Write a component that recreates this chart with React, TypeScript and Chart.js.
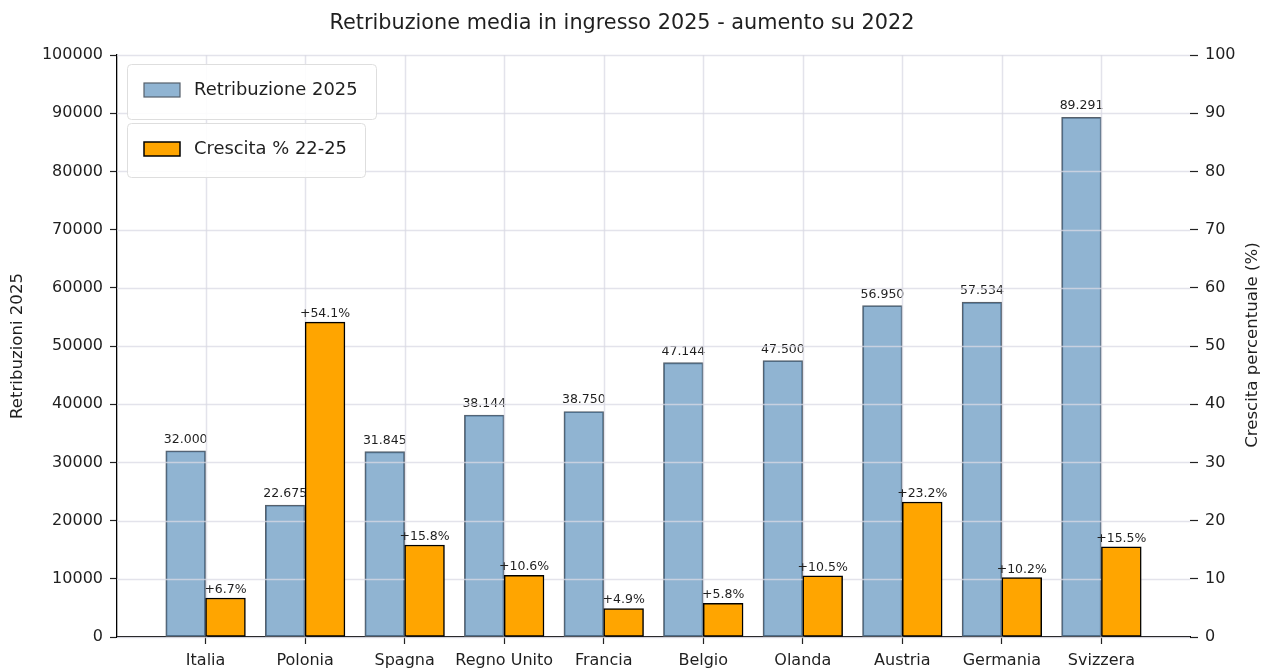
import React, { useEffect, useRef } from "react";
import { Chart, registerables } from "chart.js";

Chart.register(...registerables);

const TITLE = "Retribuzione media in ingresso 2025 - aumento su 2022";
const categories = ["Italia", "Polonia", "Spagna", "Regno Unito", "Francia", "Belgio", "Olanda", "Austria", "Germania", "Svizzera"];
const retribuzioni2025 = [32000, 22675, 31845, 38144, 38750, 47144, 47500, 56950, 57534, 89291];
const retribuzioniLabels = ["32.000", "22.675", "31.845", "38.144", "38.750", "47.144", "47.500", "56.950", "57.534", "89.291"];
const crescitaPct = [6.7, 54.1, 15.8, 10.6, 4.9, 5.8, 10.5, 23.2, 10.2, 15.5];
const crescitaLabels = ["+6.7%", "+54.1%", "+15.8%", "+10.6%", "+4.9%", "+5.8%", "+10.5%", "+23.2%", "+10.2%", "+15.5%"];
const leftAxisTitle = "Retribuzioni 2025";
const rightAxisTitle = "Crescita percentuale (%)";
const legendLabels = ["Retribuzione 2025", "Crescita % 22-25"];
const BAR_WIDTH = 0.4;

const FONT = "'DejaVu Sans', sans-serif";
const TEXT = "#1f1f1f";
const BLUE = "rgba(70,130,180,0.6)";
const BLUE_EDGE = "#56606b";
const ORANGE = "#FFA500";
const GRID = "rgba(218,218,228,0.75)";

export default function App() {
  const ref = useRef<HTMLCanvasElement | null>(null);

  useEffect(() => {
    if (!ref.current) return;

    const overlay = {
      id: "overlay",
      afterDatasetDraw(chart: any, args: any) {
        const ctx = chart.ctx;
        const ca = chart.chartArea;
        if (args.index === 0) {
          ctx.save();
          ctx.font = `12.5px ${FONT}`;
          ctx.fillStyle = TEXT;
          ctx.textAlign = "center";
          ctx.textBaseline = "alphabetic";
          args.meta.data.forEach((bar: any, i: number) => {
            ctx.fillText(retribuzioniLabels[i], bar.x, bar.y - 8);
          });
          // grid drawn above the first axes' content
          ctx.strokeStyle = GRID;
          ctx.lineWidth = 1.5;
          const ys = chart.scales.y;
          ys.ticks.forEach((t: any) => {
            const py = Math.round(ys.getPixelForValue(t.value)) + 0.5;
            ctx.beginPath();
            ctx.moveTo(ca.left, py);
            ctx.lineTo(ca.right, py);
            ctx.stroke();
          });
          const xs = chart.scales.x;
          xs.ticks.forEach((t: any) => {
            const px = Math.round(xs.getPixelForValue(t.value)) + 0.5;
            ctx.beginPath();
            ctx.moveTo(px, ca.top);
            ctx.lineTo(px, ca.bottom);
            ctx.stroke();
          });
          ctx.restore();
        } else if (args.index === 1) {
          ctx.save();
          ctx.font = `12.5px ${FONT}`;
          ctx.fillStyle = TEXT;
          ctx.textAlign = "center";
          ctx.textBaseline = "alphabetic";
          args.meta.data.forEach((bar: any, i: number) => {
            ctx.fillText(crescitaLabels[i], bar.x, bar.y - 5);
          });
          ctx.restore();
        }
      },
      afterDraw(chart: any) {
        const ctx = chart.ctx;
        ctx.save();
        // title
        ctx.fillStyle = TEXT;
        ctx.font = `20.8px ${FONT}`;
        ctx.textAlign = "center";
        ctx.textBaseline = "middle";
        ctx.fillText(TITLE, 622, 24);
        // axis titles
        ctx.font = `16.6px ${FONT}`;
        ctx.save();
        ctx.translate(18, 346);
        ctx.rotate(-Math.PI / 2);
        ctx.fillText(leftAxisTitle, 0, 0);
        ctx.restore();
        ctx.save();
        ctx.translate(1253, 345);
        ctx.rotate(-Math.PI / 2);
        ctx.fillText(rightAxisTitle, 0, 0);
        ctx.restore();
        // legends
        const boxes = [
          { x: 127, y: 64, w: 249, h: 55, fill: BLUE, edge: BLUE_EDGE, ew: 1.2, label: legendLabels[0] },
          { x: 127, y: 123, w: 238, h: 54, fill: ORANGE, edge: "#000", ew: 1.5, label: legendLabels[1] },
        ];
        boxes.forEach((b) => {
          ctx.beginPath();
          ctx.roundRect(b.x + 0.5, b.y + 0.5, b.w, b.h, 4);
          ctx.fillStyle = "rgba(255,255,255,0.9)";
          ctx.fill();
          ctx.strokeStyle = "#dedede";
          ctx.lineWidth = 1;
          ctx.stroke();
          const sy = b.y + 19;
          ctx.fillStyle = b.fill;
          ctx.fillRect(144, sy, 36, 14);
          ctx.strokeStyle = b.edge;
          ctx.lineWidth = b.ew;
          ctx.strokeRect(144, sy, 36, 14);
          ctx.fillStyle = TEXT;
          ctx.font = `17.9px ${FONT}`;
          ctx.textAlign = "left";
          ctx.textBaseline = "middle";
          ctx.fillText(b.label, 194, sy + 7);
        });
        ctx.restore();
      },
    };

    const chart = new Chart(ref.current, {
      type: "bar",
      data: {
        datasets: [
          {
            label: legendLabels[0],
            data: categories.map((_, i) => ({ x: i - BAR_WIDTH / 2, y: retribuzioni2025[i] })),
            backgroundColor: BLUE,
            borderColor: BLUE_EDGE,
            borderWidth: 1.2,
            borderSkipped: false,
            yAxisID: "y",
            grouped: false,
            order: 2,
          },
          {
            label: legendLabels[1],
            data: categories.map((_, i) => ({ x: i + BAR_WIDTH / 2, y: crescitaPct[i] })),
            backgroundColor: ORANGE,
            borderColor: "#000",
            borderWidth: 1.5,
            borderSkipped: false,
            yAxisID: "y1",
            grouped: false,
            order: 1,
          },
        ] as any,
      },
      plugins: [overlay],
      options: {
        animation: false,
        responsive: false,
        devicePixelRatio: 1,
        categoryPercentage: 1.0,
        barPercentage: 1.0,
        layout: { padding: { top: 55, left: 0, right: 0, bottom: 0 } },
        plugins: {
          legend: { display: false },
          title: { display: false },
          tooltip: { enabled: false },
        },
        scales: {
          x: {
            type: "linear",
            min: -0.89,
            max: 9.89,
            offset: false,
            afterBuildTicks: (scale: any) => {
              scale.ticks = categories.map((_, i) => ({ value: i }));
            },
            afterFit: (scale: any) => {
              scale.height = 32;
            },
            grid: {
              offset: false,
              drawOnChartArea: false,
              drawTicks: true,
              tickLength: 7,
              tickColor: "#222",
              tickWidth: 1.2,
            },
            border: { display: true, color: "#000", width: 1.3 },
            ticks: {
              autoSkip: false,
              maxRotation: 0,
              padding: 7,
              color: TEXT,
              font: { family: FONT, size: 16 },
              callback: (v: any) => categories[Math.round(Number(v))] ?? "",
            },
          },
          y: {
            type: "linear",
            position: "left",
            min: 0,
            max: 100000,
            afterFit: (scale: any) => {
              scale.width = 117;
            },
            grid: {
              drawOnChartArea: false,
              drawTicks: true,
              tickLength: 7,
              tickColor: "#222",
              tickWidth: 1.2,
            },
            border: { display: true, color: "#000", width: 1.3 },
            ticks: {
              stepSize: 10000,
              padding: 7,
              color: TEXT,
              font: { family: FONT, size: 16 },
              callback: (v: any) => String(v),
            },
          },
          y1: {
            type: "linear",
            position: "right",
            min: 0,
            max: 100,
            afterFit: (scale: any) => {
              scale.width = 71;
            },
            grid: {
              drawOnChartArea: false,
              drawTicks: true,
              tickLength: 8,
              tickColor: "#222",
              tickWidth: 1.2,
            },
            border: { display: false },
            ticks: {
              stepSize: 10,
              padding: 7,
              color: TEXT,
              font: { family: FONT, size: 16 },
              callback: (v: any) => String(v),
            },
          },
        },
      } as any,
    });

    return () => chart.destroy();
  }, []);

  return (
    <div style={{ position: "fixed", left: 0, top: 0, width: 1261, height: 669, background: "#fff" }}>
      <canvas ref={ref} width={1261} height={669} style={{ display: "block" }} />
    </div>
  );
}
